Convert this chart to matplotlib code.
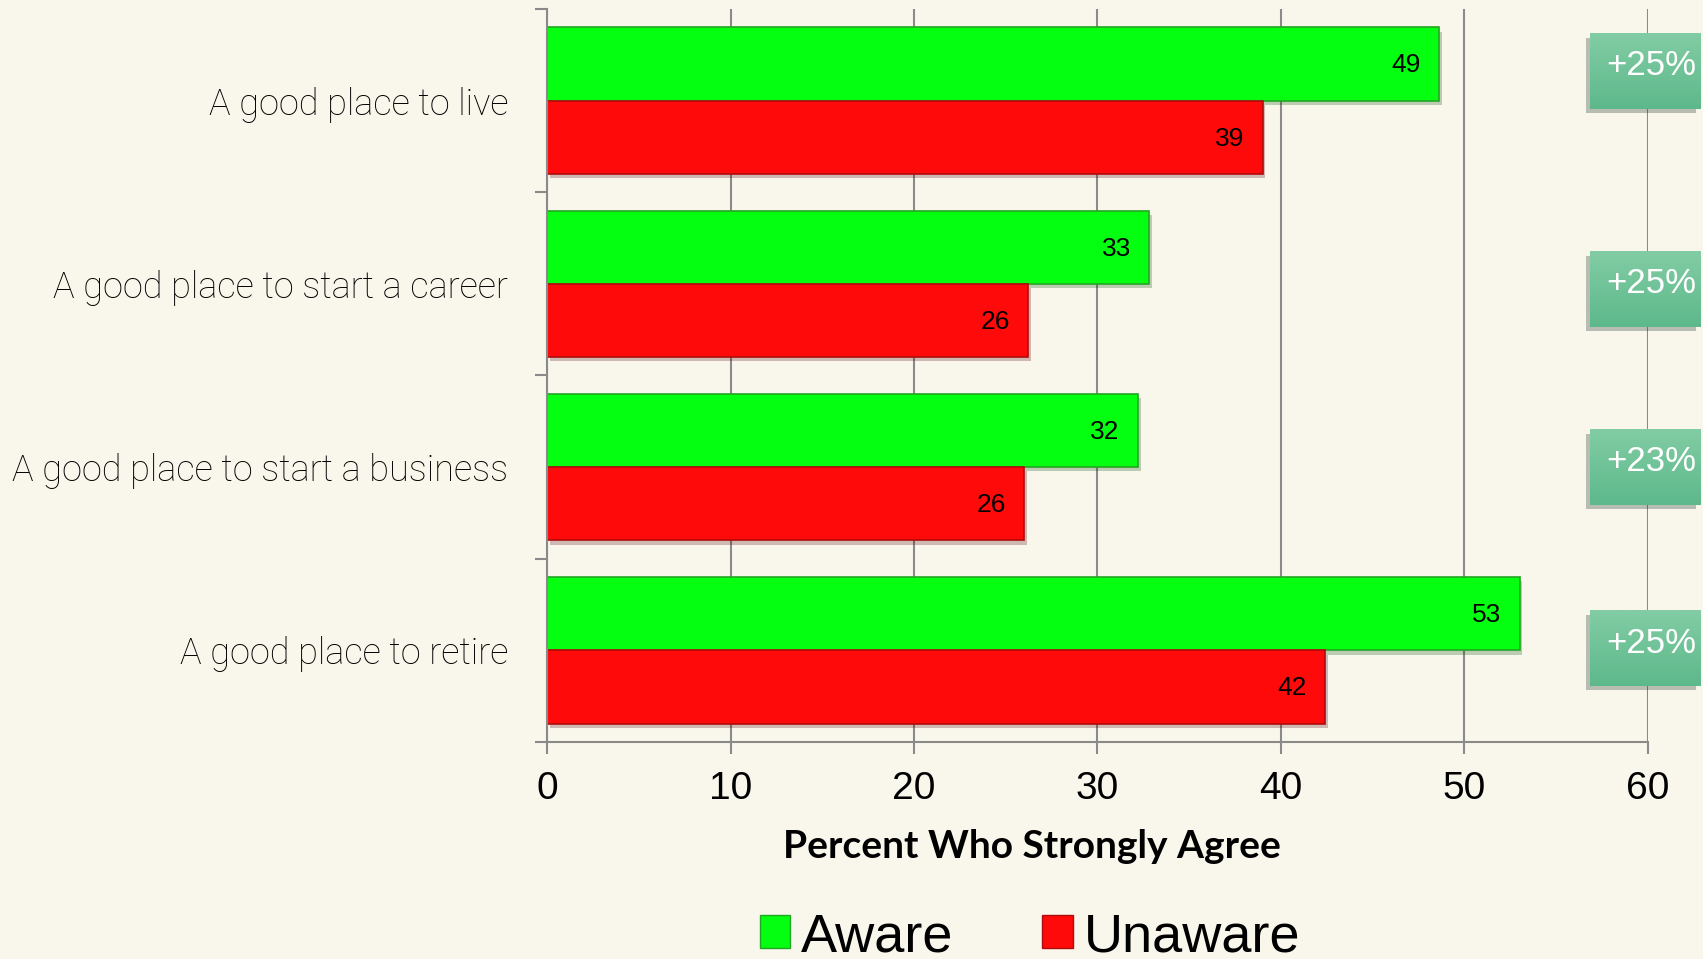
import numpy as np
import matplotlib
matplotlib.use("Agg")
from matplotlib import pyplot as plt
from matplotlib.patches import Patch, Rectangle
import matplotlib.patheffects as pe

# --- data ---
categories = [
    "A good place to live",
    "A good place to start a career",
    "A good place to start a business",
    "A good place to retire",
]
aware = [48.6, 32.8, 32.2, 53.0]
unaware = [39.0, 26.2, 26.0, 42.4]
badges = ["+25%", "+25%", "+23%", "+25%"]
xticks = [0, 10, 20, 30, 40, 50, 60]

# --- style ---
BG = "#f9f7ec"
GREEN, GREEN_EDGE = "#05ff10", "#22a622"
RED, RED_EDGE = "#ff0a0a", "#b00c0c"
GRID = "#8a8a8a"
NARROW = ["Liberation Sans Narrow", "Liberation Sans", "DejaVu Sans"]
LIGHT = ["Roboto", "DejaVu Sans"]
badge_shift = [-0.16, 0.03, 0.0, -0.01]  # badges are not quite centred on rows

fig = plt.figure(figsize=(17.03, 9.59), dpi=100, facecolor=BG)
ax = fig.add_axes([0.3212, 0.2263, 0.6465, 0.7643], facecolor=BG)

y = np.arange(len(categories))
shadow = [pe.SimplePatchShadow(offset=(2, -3), alpha=0.25), pe.Normal()]
b1 = ax.barh(y - 0.2, aware, 0.4, color=GREEN, edgecolor=GREEN_EDGE, lw=1.2)
b2 = ax.barh(y + 0.2, unaware, 0.4, color=RED, edgecolor=RED_EDGE, lw=1.2)
for bar in list(b1) + list(b2):
    bar.set_path_effects(shadow)

for bars, vals in ((b1, aware), (b2, unaware)):
    for bar, v in zip(bars, vals):
        ax.annotate(f"{v:.0f}", (v, bar.get_y() + bar.get_height() / 2),
                    xytext=(-13, -1), textcoords="offset points",
                    ha="right", va="center", fontsize=19,
                    family="Liberation Sans", color="black")

ax.set_xlim(0, 60)
ax.set_ylim(len(categories) - 0.5, -0.5)

# axes cosmetics
for s in ("top", "right"):
    ax.spines[s].set_visible(False)
for s in ("left", "bottom"):
    ax.spines[s].set_color(GRID)
    ax.spines[s].set_linewidth(1.5)
ax.set_axisbelow(True)
ax.xaxis.grid(True, color=GRID, lw=1.5)

ax.set_xticks(xticks)
ax.set_xticklabels([str(t) for t in xticks], family=NARROW)
ax.tick_params(axis="x", length=8.6, width=1.5, color=GRID,
               labelsize=28, pad=12)

ax.set_yticks(np.arange(len(categories) + 1) - 0.5)
ax.set_yticklabels([])
ax.set_yticks(y, minor=True)
ax.set_yticklabels(categories, minor=True, family=LIGHT, fontweight="light",
                   fontsize=26)
ax.tick_params(axis="y", which="major", length=8.6, width=1.5, color=GRID)
ax.tick_params(axis="y", which="minor", length=0, pad=28)

ax.set_xlabel("Percent Who Strongly Agree", fontsize=28, fontweight="bold",
              family=["Lato", "DejaVu Sans"], va="center")
ax.xaxis.set_label_coords(0.44, -0.143)

# difference badges on the right
grad = np.linspace(0, 1, 64).reshape(-1, 1)
cmap = matplotlib.colors.LinearSegmentedColormap.from_list(
    "badge", ["#82cca4", "#5db98b"])
for i, txt in enumerate(badges):
    yc = i + badge_shift[i]
    y0, y1 = yc - 0.205, yc + 0.205
    r = Rectangle((56.84, y0), 6, y1 - y0, facecolor="#6cc296",
                  edgecolor="none", clip_on=False, zorder=4)
    r.set_path_effects([pe.SimplePatchShadow(offset=(-3, -3), alpha=0.3),
                        pe.Normal()])
    ax.add_patch(r)
    ax.imshow(grad, extent=(56.84, 62.84, y1, y0), aspect="auto", cmap=cmap,
              clip_on=False, zorder=5, interpolation="bilinear")
    ax.text(57.7, yc - 0.03, txt, ha="left", va="center", fontsize=25,
            family="Liberation Sans", color="white", zorder=6)
ax.set_xlim(0, 60)
ax.set_ylim(len(categories) - 0.5, -0.5)

handles = [Patch(facecolor=GREEN, edgecolor=GREEN_EDGE, label="Aware"),
           Patch(facecolor=RED, edgecolor=RED_EDGE, label="Unaware")]
fig.legend(handles=handles, loc="center left",
           bbox_to_anchor=(760 / 1703, 1 - 937 / 959), ncol=2, frameon=False,
           prop={"family": "Liberation Sans", "size": 39},
           handlelength=0.56, handleheight=0.56, handletextpad=0.2,
           columnspacing=1.64, borderpad=0, borderaxespad=0)

fig.savefig("out.png", dpi=100, facecolor=BG)
